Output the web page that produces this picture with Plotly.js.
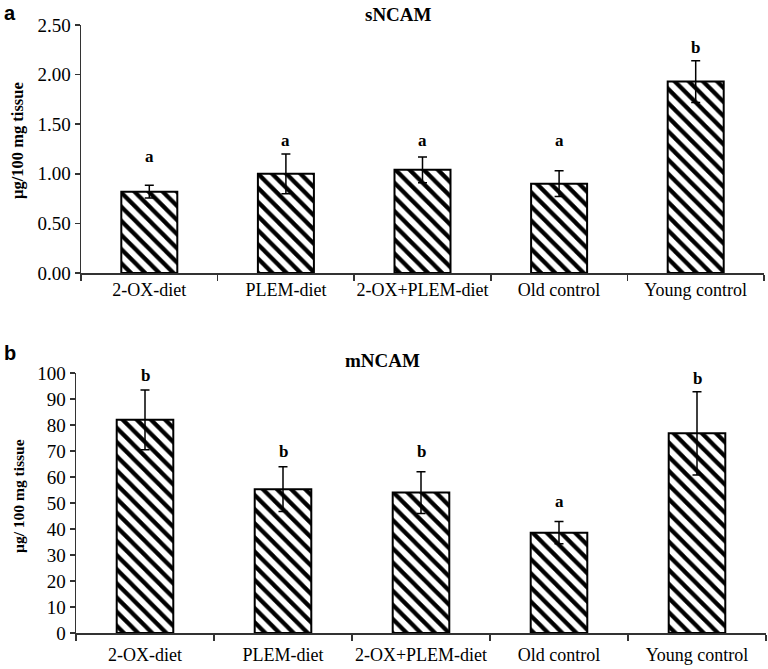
<!DOCTYPE html>
<html>
<head>
<meta charset="utf-8">
<script src="https://cdn.plot.ly/plotly-3.0.1.min.js"></script>
<style>html,body{margin:0;padding:0;background:#fff;}#chart{width:768px;height:669px;}</style>
</head>
<body>
<div id="chart"></div>
<script>
const categories = ["2-OX-diet", "PLEM-diet", "2-OX+PLEM-diet", "Old control", "Young control"];

// Panel a: sNCAM
const sValues = [0.82, 1.00, 1.04, 0.90, 1.93];
const sErrors = [0.065, 0.20, 0.13, 0.13, 0.21];
const sLetters = ["a", "a", "a", "a", "b"];
const sLetterY = [1.17, 1.34, 1.34, 1.34, 2.27];

// Panel b: mNCAM
const mValues = [82, 55.3, 54, 38.6, 76.8];
const mErrors = [11.5, 8.6, 8, 4.3, 16];
const mLetters = ["b", "b", "b", "a", "b"];
const mLetterY = [99, 69.7, 69.7, 50.5, 98];

const W = 768, H = 669;
const serif = "Liberation Serif, Times New Roman, serif";
const sans = "Liberation Sans, Arial, sans-serif";
const axisColor = "#333";

function barTrace(vals, errs, xa, ya) {
  return {
    type: "bar",
    x: categories,
    y: vals,
    xaxis: xa,
    yaxis: ya,
    width: 0.41,
    marker: {
      color: "white",
      line: {color: "black", width: 2},
      pattern: {shape: "\\", fgcolor: "black", bgcolor: "white", size: 10, solidity: 0.42}
    },
    error_y: {type: "data", array: errs, visible: true, color: "black", thickness: 1.5, width: 4.5},
    hoverinfo: "skip",
    showlegend: false
  };
}

function xAxis(d0, d1, anchor, standoff) {
  return {
    domain: [d0 / W, d1 / W], anchor: anchor, type: "category",
    showline: true, linecolor: axisColor, linewidth: 1.5,
    ticks: "outside", tickson: "boundaries", ticklen: 6, tickcolor: axisColor, tickwidth: 1.5,
    tickangle: 0, ticklabelstandoff: standoff,
    tickfont: {family: serif, size: 18, color: "black"},
    showgrid: false, zeroline: false, automargin: false, fixedrange: true
  };
}
function yAxis(top, bottom, range, dtick, fmt, anchor) {
  return {
    domain: [1 - bottom / H, 1 - top / H], anchor: anchor, range: range, dtick: dtick, tickformat: fmt,
    showline: true, linecolor: axisColor, linewidth: 1.5,
    ticks: "outside", ticklen: 5, tickcolor: axisColor, tickwidth: 1.5,
    tickfont: {family: serif, size: 19, color: "black"},
    showgrid: false, zeroline: false, automargin: false, fixedrange: true
  };
}

const annotations = [];
categories.forEach((c, i) => {
  annotations.push({xref: "x", yref: "y", x: c, y: sLetterY[i], text: "<b>" + sLetters[i] + "</b>",
    showarrow: false, font: {family: serif, size: 17, color: "black"}});
  annotations.push({xref: "x2", yref: "y2", x: c, y: mLetterY[i], text: "<b>" + mLetters[i] + "</b>",
    showarrow: false, font: {family: serif, size: 17, color: "black"}});
});
function paperText(txt, px, py, font, angle) {
  annotations.push({xref: "paper", yref: "paper", x: px / W, y: 1 - py / H, text: txt,
    showarrow: false, xanchor: "center", yanchor: "middle", textangle: angle || 0, font: font});
}
paperText("<b>sNCAM</b>", 398, 15, {family: serif, size: 19, color: "black"});
paperText("<b>mNCAM</b>", 382, 360, {family: serif, size: 19, color: "black"});
paperText("<b>a</b>", 10, 13, {family: sans, size: 20, color: "black"});
paperText("<b>b</b>", 10, 353, {family: sans, size: 20, color: "black"});
paperText("<b>µg/100 mg tissue</b>", 18, 141, {family: serif, size: 16.5, color: "black"}, -90);
paperText("<b>µg/ 100 mg tissue</b>", 18, 496, {family: serif, size: 15.5, color: "black"}, -90);

const layout = {
  width: W, height: H,
  margin: {l: 0, r: 0, t: 0, b: 0},
  paper_bgcolor: "white", plot_bgcolor: "white",
  xaxis: xAxis(81, 764, "y", 0),
  yaxis: yAxis(25, 273, [0, 2.5], 0.5, ".2f", "x"),
  xaxis2: xAxis(76, 766, "y2", 5),
  yaxis2: yAxis(373, 633, [0, 100], 10, "d", "x2"),
  annotations: annotations
};

Plotly.newPlot("chart", [barTrace(sValues, sErrors, "x", "y"), barTrace(mValues, mErrors, "x2", "y2")], layout, {displayModeBar: false, staticPlot: true});
</script>
</body>
</html>
